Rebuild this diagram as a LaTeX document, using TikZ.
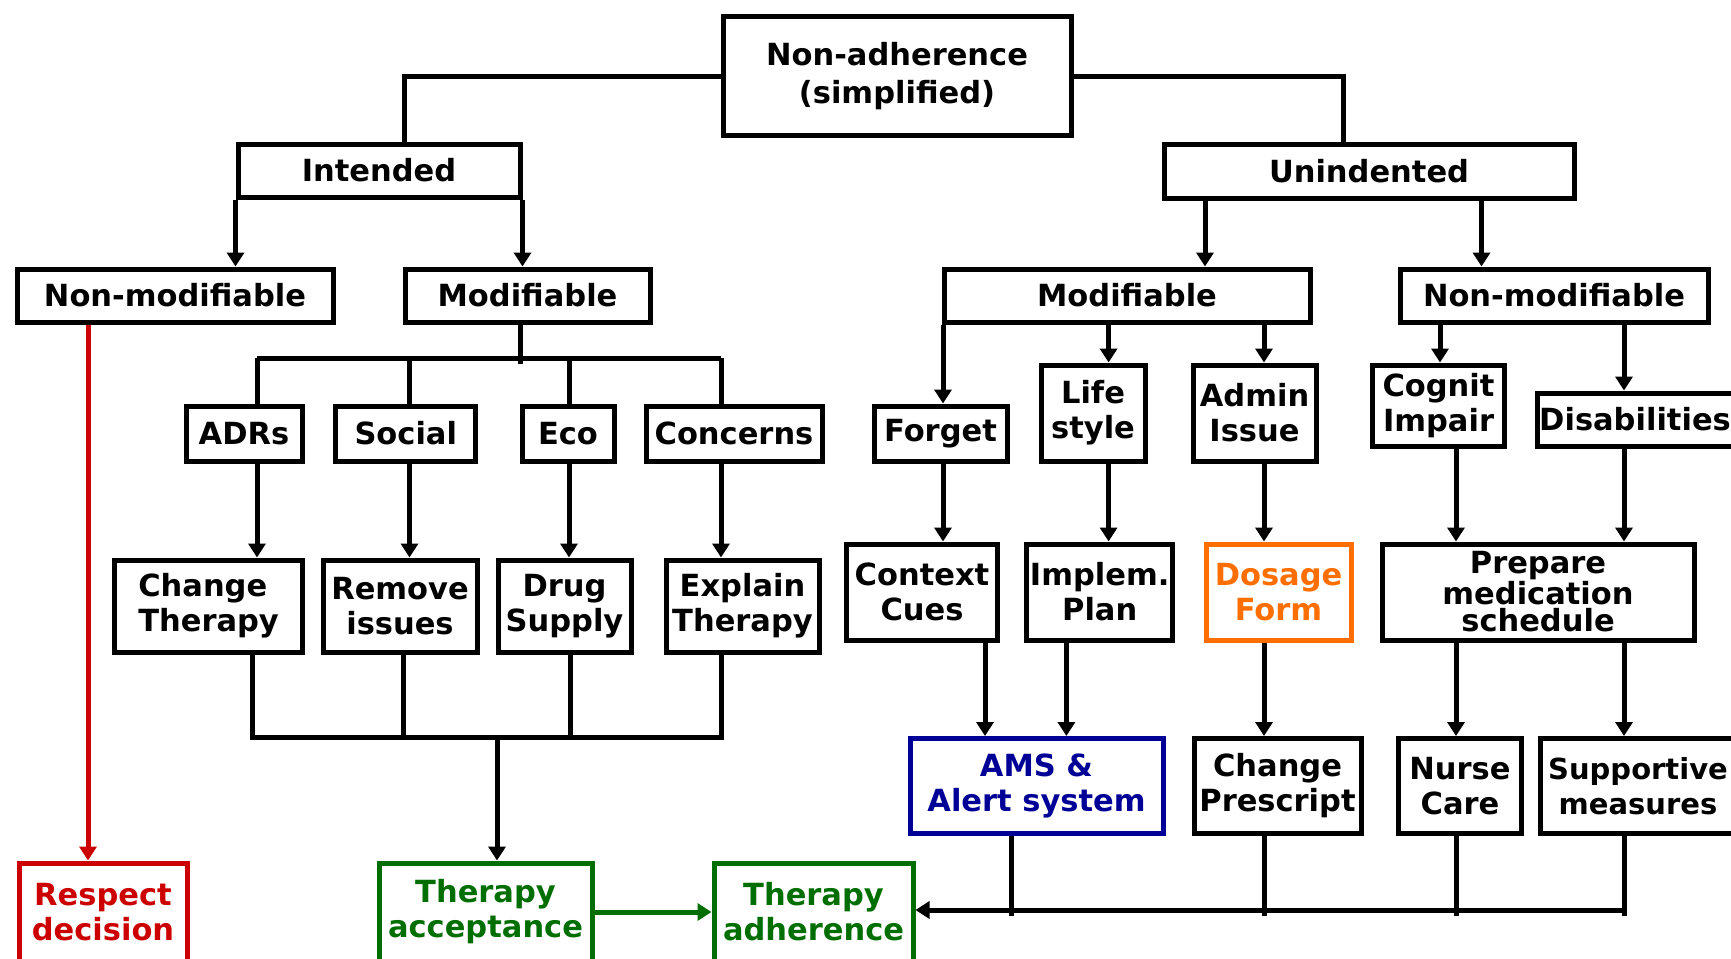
\documentclass[tikz,border=0pt]{standalone}
\usepackage{fontspec}
\setmainfont{DejaVu Sans}
\usetikzlibrary{arrows.meta,calc}
\definecolor{respred}{RGB}{204,0,0}
\definecolor{accgreen}{RGB}{0,110,0}
\definecolor{amsblue}{RGB}{0,0,150}
\definecolor{doseorange}{RGB}{255,110,0}

\begin{document}
\begin{tikzpicture}[x=1pt, y=-1pt,
    box/.style={draw, line width=5pt, inner sep=0pt, align=center,
      font=\fontsize{30.5}{35}\selectfont\bfseries},
    wh/.style 2 args={minimum width=#1pt, minimum height=#2pt},
    conn/.style={line width=5pt},
    arr/.style={line width=5pt, -{Triangle[length=14pt, width=17pt]}}]
  \useasboundingbox (0,0) rectangle (1731,958);
  \clip (0,0) rectangle (1731,958);

  \node[box, wh={348}{118}, font=\fontsize{30.5}{38.6}\selectfont\bfseries] (root) at (897,76) {Non-adherence\\(simplified)};
  \node[box, wh={282}{53}] (int) at (379,170.5) {Intended};
  \node[box, wh={410}{54}] (unint) at (1369,171) {Unindented};

  \node[box, wh={316}{53}] (lnon) at (175,295.5) {Non-modifiable};
  \node[box, wh={245}{53}] (lmod) at (527.5,295.5) {Modifiable};
  \node[box, wh={366}{53}] (rmod) at (1127,295.5) {Modifiable};
  \node[box, wh={308}{53}] (rnon) at (1554,295.5) {Non-modifiable};

  \node[box, wh={116}{55}] (adr) at (244,433.5) {ADRs};
  \node[box, wh={140}{55}] (soc) at (405.75,433.5) {Social};
  \node[box, wh={92}{55}] (eco) at (568,433.5) {Eco};
  \node[box, wh={176}{55}] (conc) at (734,433.5) {Concerns};
  \node[box, wh={133}{55}] (forget) at (940.5,433.5) {Forget};
  \node[box, wh={104}{96}] (life) at (1093,413) {Life\\style};
  \node[box, wh={123}{96}] (admin) at (1254.5,413) {Admin\\Issue};
  \node[box, wh={132}{81}] (cog) at (1438.5,405.5) {Cognit\\Impair};
  \node[box, wh={196}{53}] (disab) at (1635,419.5) {Disabilities};

  \node[box, wh={188}{92}, align=left] (chth) at (208.6,606) {Change\\Therapy};
  \node[box, wh={154}{92}] (remove) at (400,606) {Remove\\issues};
  \node[box, wh={133}{92}] (drug) at (564.5,606) {Drug\\Supply};
  \node[box, wh={153}{92}] (expl) at (742.5,606) {Explain\\Therapy};
  \node[box, wh={151}{96}] (ctx) at (922,592) {Context\\Cues};
  \node[box, wh={146}{96}] (impl) at (1099.7,592) {Implem.\\Plan};
  \node[box, wh={145}{96}, draw=doseorange, text=doseorange] (dose) at (1278.5,592) {Dosage\\Form};
  \node[box, wh={312}{96}, font=\fontsize{30.5}{27.6}\selectfont\bfseries] (prep) at (1538,592) {Prepare\\medication\\schedule};

  \node[box, wh={253}{95}, draw=amsblue, text=amsblue] (ams) at (1036.5,786) {AMS \&\\Alert system};
  \node[box, wh={167}{95}] (chpr) at (1277.5,786) {Change\\Prescript};
  \node[box, wh={123}{95}] (nurse) at (1460,786) {Nurse\\Care};
  \node[box, wh={196}{95}, font=\fontsize{29}{35}\selectfont\bfseries] (supp) at (1638,786) {Supportive\\measures};

  \node[box, wh={168}{98}, draw=respred, text=respred] (resp) at (103,912) {Respect\\decision};
  \node[box, wh={213}{98}, draw=accgreen, text=accgreen] (acc) at (485.5,912) {Therapy\\acceptance};
  \node[box, wh={199}{98}, draw=accgreen, text=accgreen] (adh) at (813.5,912) {Therapy\\adherence};

  \draw[conn] (root.west) -| ($(int.north)+(25,0)$);
  \draw[conn] (root.east) -| ($(unint.north)+(-26,0)$);
  \draw[arr] (int.south west) -- (int.south west |- lnon.north);
  \draw[arr] (int.south east) -- (int.south east |- lmod.north);

  \coordinate (bm) at (520,358);
  \coordinate (b1) at (257,358);
  \coordinate (b2) at (409.5,358);
  \coordinate (b3) at (569,358);
  \coordinate (b4) at (721,358);
  \draw[conn] (bm |- lmod.south) -- ($(bm)+(0,6)$);
  \draw[conn] (b1) -- (b4);
  \foreach \b/\u/\d in {b1/adr/chth, b2/soc/remove, b3/eco/drug, b4/conc/expl} {
    \draw[conn] (\b) -- (\b |- \u.north);
    \draw[arr] (\b |- \u.south) -- (\b |- \d.north);
  }

  \coordinate (l1) at (252.5,737);
  \coordinate (l2) at (403.5,737);
  \coordinate (l3) at (570,737);
  \coordinate (l4) at (721.5,737);
  \coordinate (lm) at (497,737);
  \draw[conn] (l1 |- chth.south) -- (l1) -- (l4) -- (l4 |- expl.south);
  \draw[conn] (l2 |- remove.south) -- (l2);
  \draw[conn] (l3 |- drug.south) -- (l3);
  \draw[arr] (lm) -- (lm |- acc.north);

  \coordinate (rd) at (88,600);
  \draw[arr, respred] (rd |- lnon.south) -- (rd |- resp.north);
  \draw[arr, accgreen] (acc) -- (adh);

  \coordinate (u1) at (1205,0);
  \coordinate (u2) at (1481.5,0);
  \draw[arr] (u1 |- unint.south) -- (u1 |- rmod.north);
  \draw[arr] (u2 |- unint.south) -- (u2 |- rnon.north);

  \coordinate (m1) at (943,0);
  \coordinate (m2) at (1108.6,0);
  \coordinate (m3) at (1264,0);
  \draw[arr] (m1 |- rmod.south) -- (m1 |- forget.north);
  \draw[arr] (m2 |- rmod.south) -- (m2 |- life.north);
  \draw[arr] (m3 |- rmod.south) -- (m3 |- admin.north);
  \draw[arr] (m1 |- forget.south) -- (m1 |- ctx.north);
  \draw[arr] (m2 |- life.south) -- (m2 |- impl.north);
  \draw[arr] (m3 |- admin.south) -- (m3 |- dose.north);
  \draw[arr] (m3 |- dose.south) -- (m3 |- chpr.north);

  \coordinate (a1) at (985,0);
  \coordinate (a2) at (1066.4,0);
  \draw[arr] (a1 |- ctx.south) -- (a1 |- ams.north);
  \draw[arr] (a2 |- impl.south) -- (a2 |- ams.north);

  \coordinate (n1) at (1440,0);
  \coordinate (n2) at (1456,0);
  \coordinate (n3) at (1624,0);
  \draw[arr] (n1 |- rnon.south) -- (n1 |- cog.north);
  \draw[arr] (n3 |- rnon.south) -- (n3 |- disab.north);
  \draw[arr] (n2 |- cog.south) -- (n2 |- prep.north);
  \draw[arr] (n3 |- disab.south) -- (n3 |- prep.north);
  \draw[arr] (n2 |- prep.south) -- (n2 |- nurse.north);
  \draw[arr] (n3 |- prep.south) -- (n3 |- supp.north);

  \coordinate (zz) at (1011.5,916);
  \coordinate (zb) at (1624,910);
  \draw[conn] (zz |- ams.south) -- (zz);
  \draw[conn] (m3 |- chpr.south) -- (m3 |- zz);
  \draw[conn] (n2 |- nurse.south) -- (n2 |- zz);
  \draw[conn] (n3 |- supp.south) -- (n3 |- zz);
  \draw[arr] (zb) -- (adh.east |- zb);
\end{tikzpicture}
\end{document}
